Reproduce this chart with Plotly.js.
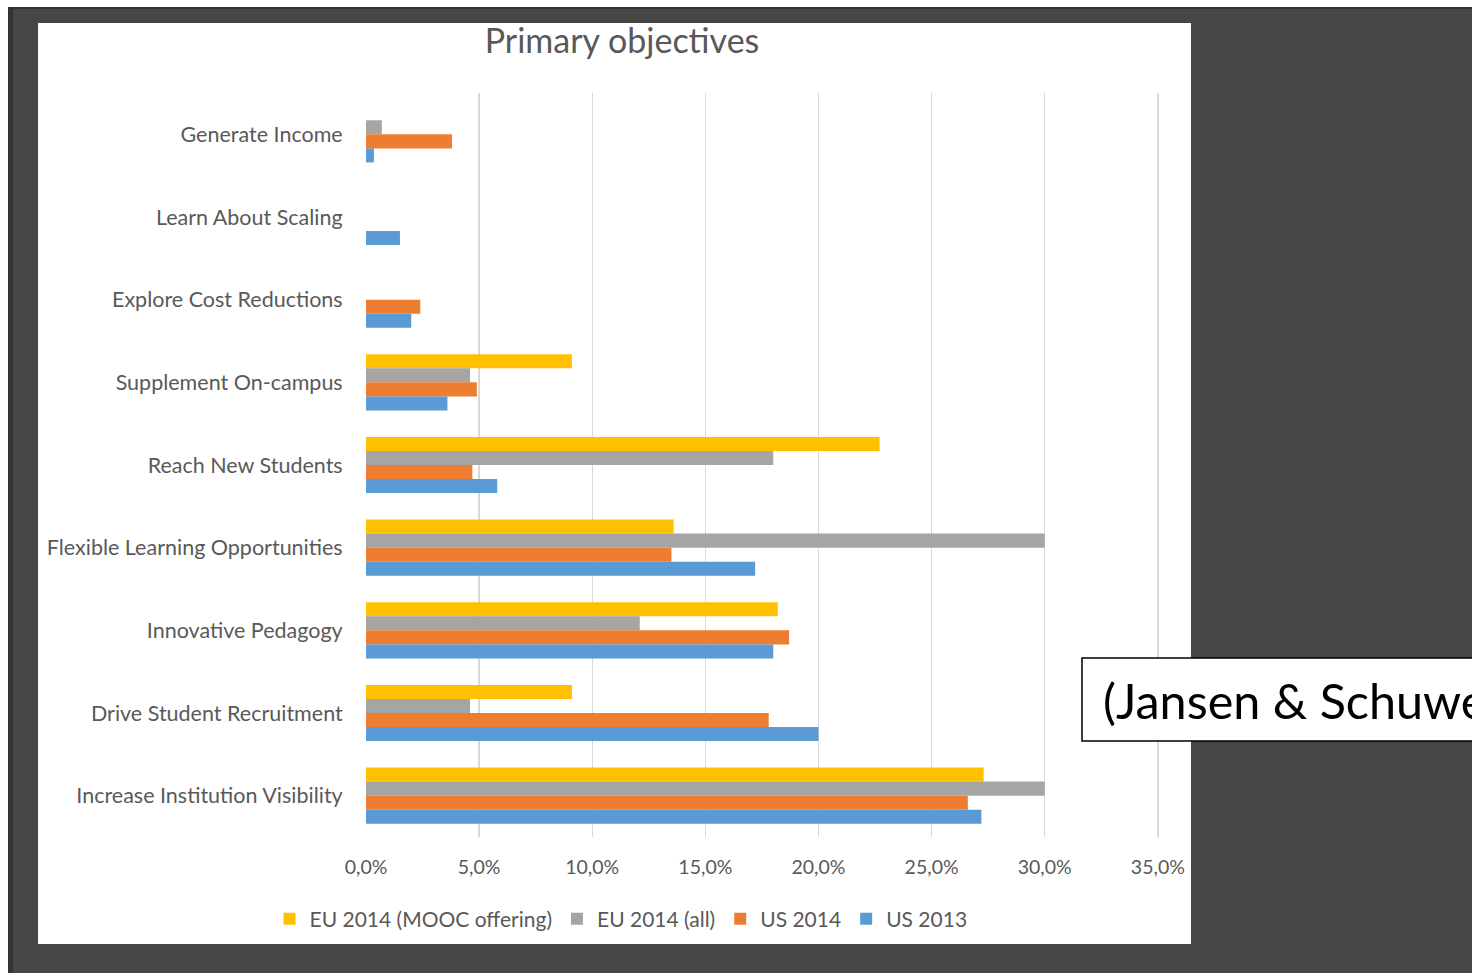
<!DOCTYPE html>
<html>
<head>
<meta charset="utf-8">
<script src="https://cdn.plot.ly/plotly-3.0.1.min.js"></script>
<style>
  html, body { margin: 0; padding: 0; background: #ffffff; }
  #chart { width: 1472px; height: 973px; }
</style>
</head>
<body>
<div id="chart"></div>
<script>
// ---- data (percent) ----
var categories = [
  "Generate Income",
  "Learn About Scaling",
  "Explore Cost Reductions",
  "Supplement On-campus",
  "Reach New Students",
  "Flexible Learning Opportunities",
  "Innovative Pedagogy",
  "Drive Student Recruitment",
  "Increase Institution Visibility"
];
var seriesNames = ["EU 2014 (MOOC offering)", "EU 2014 (all)", "US 2014", "US 2013"];
var eu2014Mooc = [0, 0, 0, 9.1, 22.7, 13.6, 18.2, 9.1, 27.3];
var eu2014All  = [0.7, 0, 0, 4.6, 18.0, 30.0, 12.1, 4.6, 30.0];
var us2014     = [3.8, 0, 2.4, 4.9, 4.7, 13.5, 18.7, 17.8, 26.6];
var us2013     = [0.35, 1.5, 2.0, 3.6, 5.8, 17.2, 18.0, 20.0, 27.2];
var tickValues = [0, 5, 10, 15, 20, 25, 30, 35];
var tickLabels = ["0,0%", "5,0%", "10,0%", "15,0%", "20,0%", "25,0%", "30,0%", "35,0%"];
var chartTitle = "Primary objectives";
var sourceNote = "(Jansen & Schuwer, 2015)";

// ---- layout helpers (pixel -> paper) ----
var W = 1472, H = 973;
var mL = 366, mR = W - 1159, mT = 93, mB = H - 837;
var pw = W - mL - mR, ph = H - mT - mB;
function px(x) { return (x - mL) / pw; }
function py(y) { return (H - mB - y) / ph; }

var colors = ["#FFC000", "#A5A5A5", "#ED7D31", "#5B9BD5"];
var allValues = [eu2014Mooc, eu2014All, us2014, us2013];

var traces = allValues.map(function (vals, i) {
  return {
    type: "bar",
    orientation: "h",
    name: seriesNames[i],
    x: vals,
    y: categories,
    marker: { color: colors[i], line: { width: 0 } },
    hoverinfo: "name+x"
  };
});

var font = "Lato, 'Open Sans', sans-serif";
var grey = "#595959";

var layout = {
  width: W,
  height: H,
  margin: { l: mL, r: mR, t: mT, b: mB, pad: 0 },
  paper_bgcolor: "#464646",
  plot_bgcolor: "#ffffff",
  font: { family: font, color: grey },
  barmode: "group",
  bargap: 0.32,
  bargroupgap: 0,
  showlegend: true,
  title: {
    text: chartTitle,
    font: { family: font, size: 34, color: grey },
    x: 622 / W, xanchor: "center",
    y: 1 - 41 / H, yanchor: "middle",
    xref: "container", yref: "container"
  },
  xaxis: {
    range: [0, 35.05],
    tickmode: "array",
    tickvals: tickValues,
    ticktext: tickLabels,
    showgrid: true,
    gridcolor: "#d9d9d9",
    gridwidth: 1.5,
    zeroline: false,
    showline: false,
    ticks: "outside",
    ticklen: 13,
    tickcolor: "rgba(0,0,0,0)",
    tickfont: { family: font, size: 19.5, color: grey },
    fixedrange: true
  },
  yaxis: {
    type: "category",
    autorange: "reversed",
    showgrid: false,
    zeroline: false,
    showline: false,
    ticks: "outside",
    ticklen: 18,
    tickcolor: "rgba(0,0,0,0)",
    tickfont: { family: font, size: 21.5, color: grey },
    fixedrange: true
  },
  legend: {
    orientation: "h",
    x: px(621), xanchor: "center",
    y: py(919), yanchor: "middle",
    font: { family: font, size: 21, color: grey },
    bgcolor: "rgba(0,0,0,0)",
    itemwidth: 30,
    traceorder: "normal"
  },
  shapes: [
    // white page strips at top and left
    { type: "rect", xref: "paper", yref: "paper", x0: px(0), x1: px(W), y0: py(7), y1: py(0),
      fillcolor: "#ffffff", line: { width: 0 }, layer: "below" },
    { type: "rect", xref: "paper", yref: "paper", x0: px(0), x1: px(8), y0: py(H), y1: py(0),
      fillcolor: "#ffffff", line: { width: 0 }, layer: "below" },
    // dark frame edges
    { type: "rect", xref: "paper", yref: "paper", x0: px(8), x1: px(13), y0: py(H), y1: py(7),
      fillcolor: "#333333", line: { width: 0 }, layer: "below" },
    { type: "rect", xref: "paper", yref: "paper", x0: px(8), x1: px(W), y0: py(9), y1: py(7),
      fillcolor: "#333333", line: { width: 0 }, layer: "below" },
    // white chart area
    { type: "rect", xref: "paper", yref: "paper", x0: px(38), x1: px(1191), y0: py(944), y1: py(23),
      fillcolor: "#ffffff", line: { width: 0 }, layer: "below" },
    // source text box
    { type: "rect", xref: "paper", yref: "paper", x0: px(1082), x1: px(1490), y0: py(741), y1: py(658),
      fillcolor: "#ffffff", line: { color: "#000000", width: 1.5 }, layer: "above" }
  ],
  annotations: [
    { xref: "paper", yref: "paper", x: px(1101), y: py(700), xanchor: "left", yanchor: "middle",
      text: sourceNote, showarrow: false,
      font: { family: "Lato, 'Liberation Sans', sans-serif", size: 48.5, color: "#000000" } }
  ]
};

Plotly.newPlot("chart", traces, layout, { displayModeBar: false, staticPlot: true });
</script>
</body>
</html>
